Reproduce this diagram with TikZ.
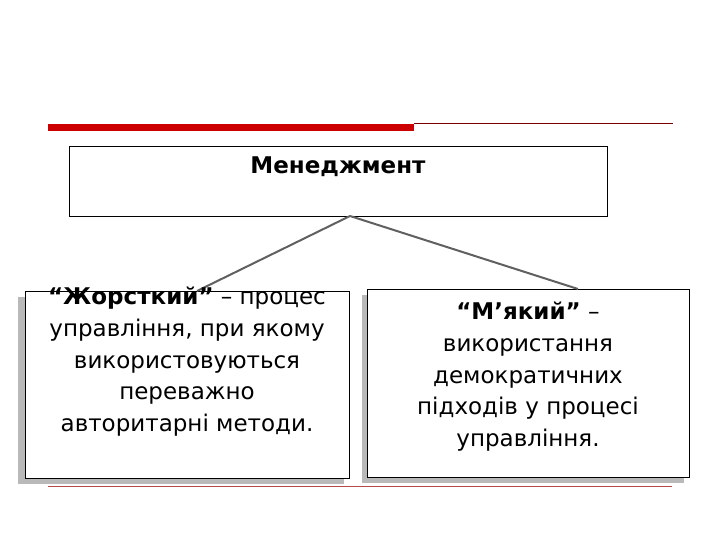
\documentclass[tikz,border=0pt]{standalone}
\usepackage{fontspec}
\setmainfont{DejaVu Sans}
\begin{document}
\begin{tikzpicture}[x=1pt,y=-1pt,
 box/.style={draw=black,fill=white,line width=0.8pt},
 shad/.style={fill=gray!55,draw=none},
 conn/.style={draw=gray!75!black,line width=2pt},
 txt/.style={align=center,font=\fontsize{23}{31.7}\selectfont,inner sep=0pt}]
\useasboundingbox (0,0) rectangle (720,540);
\fill[white] (0,0) rectangle (720,540);
% top decorations
\fill[red!80!black] (48,124) rectangle (414,131);
\draw[red!50!black,line width=0.8pt] (414,123.5) -- (673,123.5);
% top box
\node[box,minimum width=538pt,minimum height=70pt,anchor=north west] (top) at (69,146) {};
\node[font=\bfseries\fontsize{23}{26}\selectfont] (toptxt) at (338,167) {Менеджмент};
\coordinate (apex) at (350,216);
% bottom thin line
\draw[red!40!gray,line width=1pt] (48,486) -- (672,486);
% shadows
\fill[shad] (18,297) rectangle (344,484);
\fill[shad] (362,295) rectangle (684,483);
% lower boxes
\node[box,minimum width=324pt,minimum height=187pt,anchor=north west] (left) at (25,291) {};
\node[box,minimum width=322pt,minimum height=188pt,anchor=north west] (right) at (367,289) {};
\coordinate (lt) at (197,291);
\coordinate (rt) at (578,289);
\draw[conn] (apex) -- (lt);
\draw[conn] (apex) -- (rt);
\node[txt,anchor=north] (ltxt) at (187,287) {\textbf{“Жорсткий”} – процес\\управління, при якому\\використовуються\\переважно\\авторитарні методи.};
\node[txt,anchor=north] (rtxt) at (528,302) {\textbf{“М’який”} –\\використання\\демократичних\\підходів у процесі\\управління.};
\end{tikzpicture}
\end{document}
